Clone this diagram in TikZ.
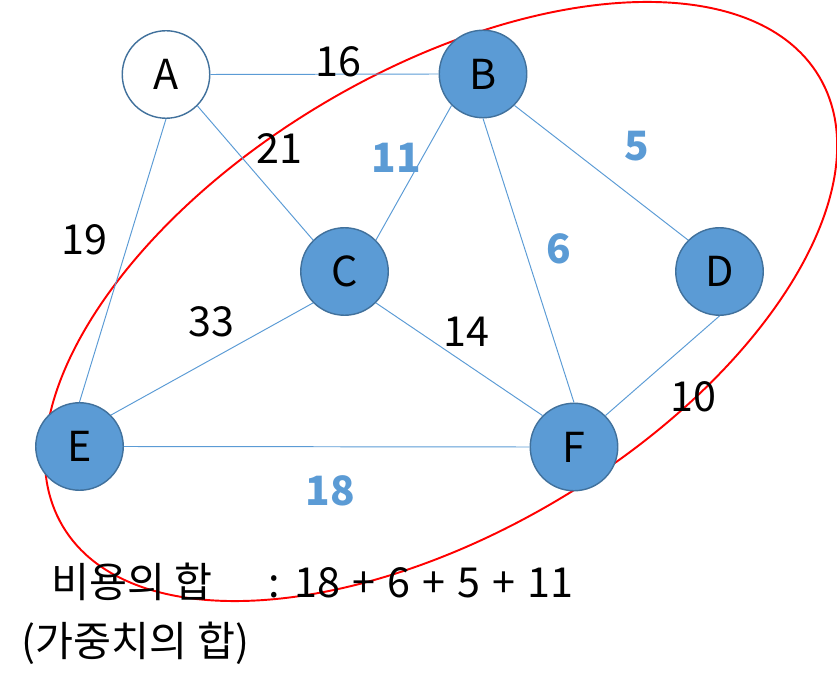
\documentclass[tikz,border=0pt]{standalone}
\usepackage{fontspec}
\setmainfont{Noto Sans CJK KR}
\newfontfamily\widefont[WordSpace=1.3]{Noto Sans CJK KR}
\definecolor{nodeblue}{HTML}{5B9BD5}
\definecolor{rimblue}{HTML}{41719C}
\tikzset{
    vertex/.style={circle, draw=rimblue, line width=0.8pt, minimum size=1.75cm, inner sep=0pt, font=\fontsize{23.5}{28}\selectfont},
    picked/.style={vertex, fill=nodeblue},
    edge/.style={nodeblue, line width=0.55pt},
    cost/.style={font=\fontsize{23.5}{28}\selectfont},
    chosen/.style={text=nodeblue, font=\fontsize{23}{27}\selectfont\bfseries}
}

\begin{document}
\begin{tikzpicture}
                \useasboundingbox (0, 0) rectangle (16.74, -13.46);

                \draw [red, line width=1.1pt, rotate around={30.73:(8.82, -6.03)}] (8.82, -6.03) ellipse [x radius=8.80cm, y radius=4.606cm];

                \node [vertex, fill=white] (A) at (3.32, -1.49) {A};
                \node [picked] (B) at (9.66, -1.48) {B};
                \node [picked] (C) at (6.89, -5.43) {C};
                \node [picked] (D) at (14.39, -5.43) {D};
                \node [picked] (E) at (1.59, -8.93) {E};
                \node [picked] (F) at (11.48, -8.94) {F};

                \draw [edge] (A.east) to (B.west);
                \draw [edge] (A.south east) to (C.north west);
                \draw [edge] (A.south) to (E.north);
                \draw [edge] (B.south west) to (C.north east);
                \draw [edge] (B.south east) to (D.north west);
                \draw [edge] (B.south) to (F.north);
                \draw [edge] (C.south west) to (E.north east);
                \draw [edge] (C.south east) to (F.north west);
                \draw [edge] (D.south) to (F.north east);
                \draw [edge] (E.east) to (F.west);

                \node [cost] (wAB) at (6.76, -1.24) {16};
                \node [cost] (wAC) at (5.58, -2.98) {21};
                \node [cost] (wAE) at (1.68, -4.80) {19};
                \node [cost] (wCE) at (4.22, -6.44) {33};
                \node [cost] (wCF) at (9.32, -6.64) {14};
                \node [cost] (wDF) at (13.86, -7.94) {10};

                \node [chosen] (wBC) at (7.92, -3.16) {11};
                \node [chosen] (wBD) at (12.74, -2.92) {5};
                \node [chosen] (wBF) at (11.18, -4.98) {6};
                \node [chosen] (wEF) at (6.60, -9.82) {18};

                % total cost
                \node [cost, anchor=base, inner sep=0pt] (sumname) at (2.64, -11.94) {비용의 합};
                \node [cost, anchor=base west, inner sep=0pt] (sumvalue) at (5.36, -11.94) {\widefont : 18 + 6 + 5 + 11};
                \node [cost, anchor=base, inner sep=0pt] (sumnote) at (2.71, -13.12) {(가중치의 합)};
            \end{tikzpicture}
\end{document}
